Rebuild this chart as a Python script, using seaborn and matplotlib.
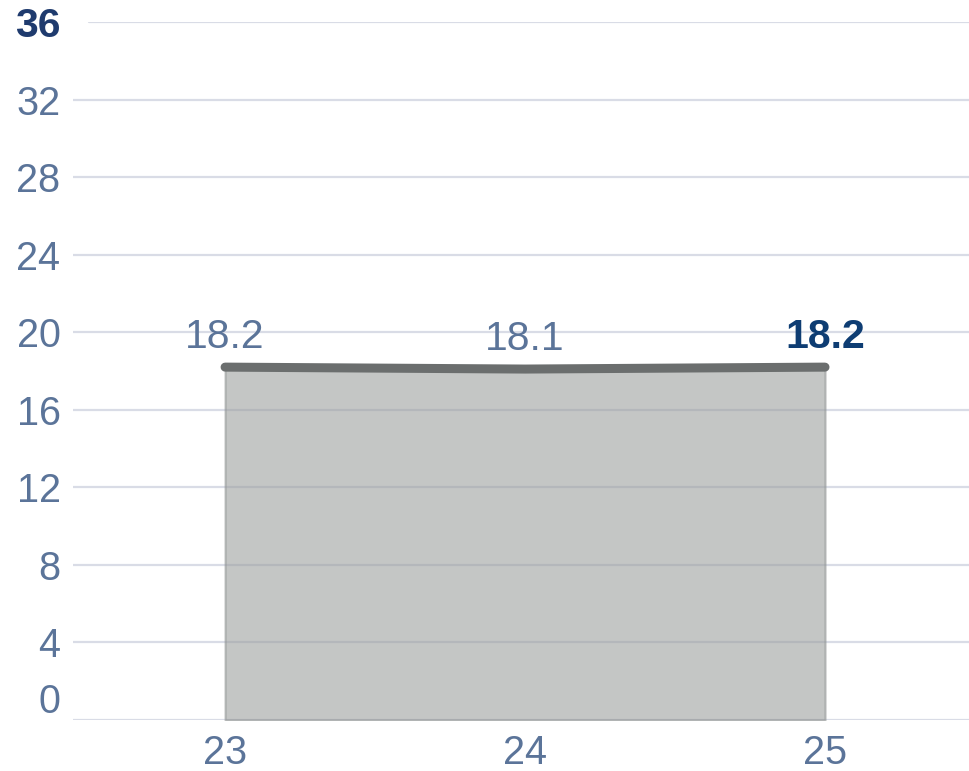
import matplotlib
matplotlib.use("Agg")
import matplotlib.pyplot as plt
import matplotlib.transforms as mtransforms
import seaborn as sns
import pandas as pd

# данные
years = [23, 24, 25]
values = [18.2, 18.1, 18.2]
y_ticks = [0, 4, 8, 12, 16, 20, 24, 28, 32, 36]
labels = ["18.2", "18.1", "18.2"]

sns.set_theme(style="white")
plt.rcParams['font.family'] = ['Liberation Sans', 'DejaVu Sans']

df = pd.DataFrame({"year": years, "value": values})

fig = plt.figure(figsize=(9.69, 7.71), dpi=100)
ax = fig.add_axes([73 / 969, 51 / 771, 896 / 969, 698 / 771])

tick_color = "#5b7499"
grid_color = "#d9dce6"

ax.set_xlim(22.493, 25.48)
ax.set_ylim(0, 36)
ax.set_yticks(y_ticks)
ax.set_xticks(years)
ax.yaxis.grid(True, color=grid_color, linewidth=1.6, zorder=0)
ax.set_axisbelow(True)
for s in ax.spines.values():
    s.set_visible(False)

# площадь под линией
ax.fill_between(df["year"], 0, df["value"], facecolor="#9a9d9c", alpha=0.58,
                edgecolor="#8f9393", linewidth=1.5, zorder=2)
sns.lineplot(data=df, x="year", y="value", ax=ax, color="#6b6e6e",
             linewidth=6.5, solid_capstyle="round", zorder=3)

# подписи значений
for i, (x, v, t) in enumerate(zip(years, values, labels)):
    last = i == len(years) - 1
    ax.annotate(t, (x, v), xytext=(0, 8), textcoords="offset points",
                ha="center", va="bottom", fontsize=29.5,
                color="#0e3d73" if last else tick_color,
                fontweight="bold" if last else "normal", zorder=4)

ax.set_xlabel("")
ax.set_ylabel("")
ax.tick_params(axis="both", length=0, labelsize=28.5, labelcolor=tick_color)
ax.tick_params(axis="y", pad=9)
ax.tick_params(axis="x", pad=10)
ax.set_xticklabels([str(y) for y in years])
ax.set_yticklabels([str(t) for t in y_ticks])

ylabels = ax.get_yticklabels()
# верхняя метка жирная
ylabels[-1].set_fontweight("bold")
ylabels[-1].set_color("#1f3b6e")
ylabels[-1].set_fontsize(29.5)
# нулевую метку поднимаем над осью
off = mtransforms.ScaledTranslation(0, 22 / 100, fig.dpi_scale_trans)
ylabels[0].set_transform(ylabels[0].get_transform() + off)

# верхняя линия сетки начинается правее
gl = ax.yaxis.get_gridlines()
gl[-1].set_xdata([16 / 896, 1])

fig.savefig("out.png", dpi=100, facecolor="white")
plt.close(fig)
